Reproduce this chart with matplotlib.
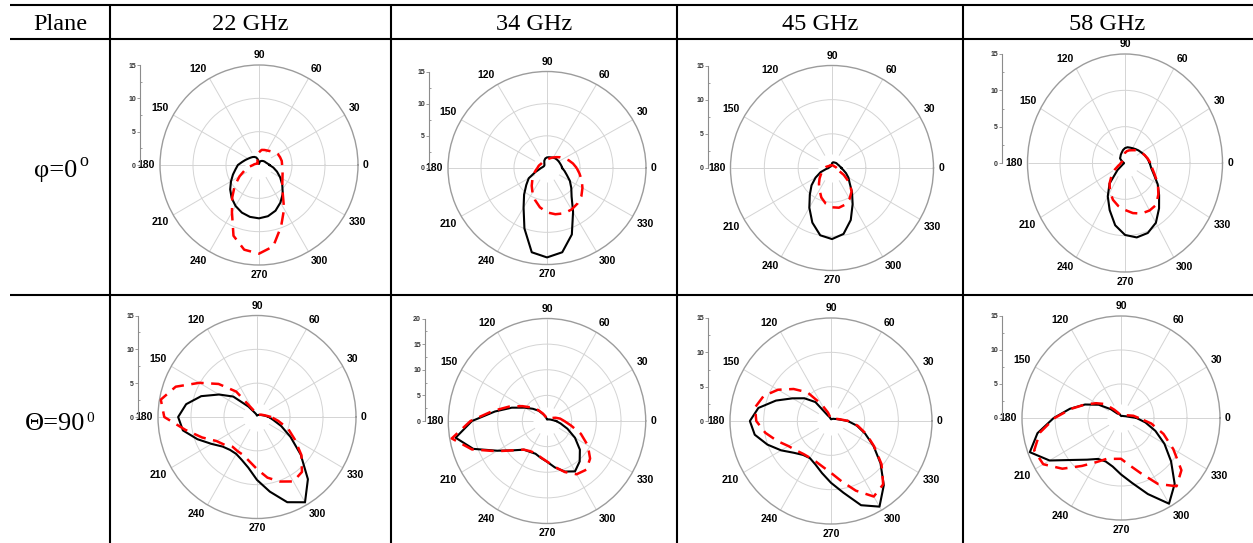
# Radiation patterns at 22/34/45/58 GHz, phi=0 and theta=90 planes, laid out as a table

import numpy as np
import matplotlib.pyplot as plt

plt.rcParams['font.family'] = ['Liberation Sans', 'DejaVu Sans']

W, H = 1253, 543

# Input data: pattern values every 10 degrees (black = solid, red = dashed)
angles = np.arange(0, 360, 10)
freqs = ['22 GHz', '34 GHz', '45 GHz', '58 GHz']

phi0_black_22 = [1.6, 1.3, 1.1, 1.0, 0.9, 0.8, 0.7, 0.6, 0.4, 0.15, 0.8, 1.2,
                 1.4, 1.55, 1.7, 1.9, 2.2, 2.6, 3.2, 3.6, 4.2, 4.9, 5.7, 6.45,
                 7.1, 7.6, 7.9, 8.0, 7.8, 7.3, 6.5, 5.6, 4.6, 3.7, 2.9, 2.2]
phi0_red_22 = [3.5, 3.5, 3.4, 3.3, 3.0, 2.7, 2.5, 2.4, 2.3, 1.9, 1.3, 0.7,
               0.4, 0.3, 0.3, 0.4, 0.5, 0.7, 0.9, 1.5, 2.3, 3.4, 4.8, 6.3,
               8.2, 11.3, 12.9, 13.3, 12.4, 9.8, 7.6, 5.6, 4.6, 4.1, 3.8, 3.6]

phi0_black_34 = [2.3, 2.2, 2.1, 2.05, 2.0, 1.95, 1.85, 1.75, 1.7, 1.65, 1.5, 1.2,
                 0.8, 0.6, 0.55, 0.55, 0.6, 0.7, 0.9, 1.2, 1.9, 3.2, 4.1, 5.4,
                 7.1, 10.0, 13.3, 13.9, 13.3, 11.0, 7.9, 5.8, 4.8, 4.0, 3.2, 2.7]
phi0_red_34 = [4.5, 4.0, 3.5, 3.0, 2.6, 2.2, 1.9, 1.65, 1.45, 1.3, 1.2, 1.15,
               1.1, 1.1, 1.1, 1.15, 1.25, 1.35, 1.45, 1.7, 2.0, 2.35, 2.9, 3.6,
               4.4, 5.3, 6.2, 6.9, 7.3, 7.5, 7.45, 7.2, 6.8, 6.2, 5.6, 5.0]

phi0_black_45 = [1.4, 1.2, 1.1, 1.0, 0.97, 0.95, 0.9, 0.87, 0.85, 0.7, 0.4, 0.3,
                 0.3, 0.3, 0.35, 0.35, 0.4, 0.45, 0.5, 0.9, 1.8, 2.8, 3.95, 5.1,
                 6.7, 8.5, 10.0, 10.4, 9.8, 8.1, 6.1, 4.6, 3.4, 2.8, 2.2, 1.7]
phi0_red_45 = [0.7, 0.6, 0.5, 0.45, 0.4, 0.4, 0.4, 0.4, 0.4, 0.4, 0.4, 0.4,
               0.45, 0.5, 0.5, 0.55, 0.7, 0.9, 1.1, 1.3, 1.55, 1.9, 2.4, 3.0,
               3.7, 4.6, 5.3, 5.75, 5.9, 5.7, 5.2, 4.5, 3.4, 2.0, 1.0, 0.8]

phi0_black_58 = [3.8, 3.5, 3.2, 2.9, 2.7, 2.5, 2.35, 2.25, 2.2, 2.05, 1.8, 1.5,
                 1.3, 1.1, 1.0, 0.6, 0.3, 0.2, 0.15, 0.15, 0.2, 0.4, 1.5, 3.7,
                 5.3, 6.9, 8.7, 9.9, 10.4, 10.25, 9.5, 8.15, 6.85, 5.8, 4.75, 4.1]
phi0_red_58 = [3.9, 3.55, 3.2, 2.9, 2.6, 2.3, 2.03, 1.85, 1.66, 1.4, 1.0, 0.74,
               0.6, 0.5, 0.45, 0.45, 0.5, 0.55, 0.65, 0.75, 1.1, 1.8, 2.7, 3.7,
               4.6, 5.4, 6.0, 6.46, 7.0, 7.4, 7.55, 7.5, 6.7, 5.85, 4.9, 4.25]

theta90_black_22 = [1.8, 1.17, 0.8, 0.6, 0.5, 0.4, 0.35, 0.3, 0.25, 0.2, 0.3, 0.5,
                    0.8, 2.0, 4.7, 6.65, 9.0, 10.9, 11.95, 11.4, 9.6, 7.95, 6.8, 6.35,
                    6.3, 6.75, 7.6, 9.3, 11.2, 13.4, 14.55, 12.0, 8.65, 5.85, 3.9, 2.5]
theta90_red_22 = [2.15, 1.3, 0.9, 0.7, 0.5, 0.4, 0.35, 0.3, 0.3, 0.3, 0.4, 0.6,
                  1.3, 4.9, 7.6, 10.1, 13.1, 14.8, 14.05, 11.0, 8.85, 7.1, 6.4, 5.75,
                  5.85, 6.0, 6.65, 7.7, 9.1, 10.15, 11.0, 10.6, 8.8, 6.6, 5.0, 3.25]

theta90_black_34 = [1.85, 1.1, 0.8, 0.6, 0.5, 0.4, 0.35, 0.3, 0.3, 0.3, 0.5, 0.9,
                    1.5, 2.6, 3.7, 5.2, 7.6, 10.7, 15.2, 18.8, 15.9, 11.6, 8.9, 7.3,
                    6.95, 6.8, 7.3, 7.95, 9.2, 10.5, 11.35, 10.3, 8.7, 6.55, 4.4, 2.8]
theta90_red_34 = [3.5, 2.7, 1.85, 1.2, 0.8, 0.6, 0.5, 0.4, 0.35, 0.35, 0.5, 1.0,
                  1.7, 2.8, 4.1, 5.8, 8.2, 11.2, 15.5, 19.6, 16.2, 11.8, 8.9, 7.3,
                  6.8, 6.7, 7.2, 7.9, 9.1, 10.6, 12.0, 12.4, 11.4, 9.55, 7.3, 4.9]

theta90_black_45 = [2.5, 1.25, 0.85, 0.6, 0.5, 0.4, 0.35, 0.3, 0.25, 0.25, 0.35, 0.6,
                    0.9, 3.6, 5.15, 6.6, 8.7, 10.95, 12.05, 11.5, 10.05, 8.55, 7.2, 6.45,
                    6.25, 6.75, 7.7, 9.0, 10.6, 13.05, 14.4, 12.2, 9.6, 7.3, 5.4, 3.9]
theta90_red_45 = [2.6, 1.4, 0.9, 0.65, 0.5, 0.4, 0.35, 0.3, 0.3, 0.3, 0.5, 1.3,
                  2.8, 5.45, 7.25, 9.1, 10.65, 11.45, 11.1, 9.9, 8.5, 7.3, 6.7, 6.3,
                  6.2, 6.35, 6.8, 7.55, 8.9, 10.8, 12.7, 12.05, 9.8, 7.4, 5.6, 4.05]

theta90_black_58 = [2.35, 1.1, 0.75, 0.55, 0.45, 0.4, 0.35, 0.3, 0.3, 0.3, 0.4, 0.55,
                    0.7, 0.85, 2.0, 3.9, 5.8, 7.85, 10.2, 12.85, 14.7, 12.5, 9.6, 8.0,
                    6.95, 6.8, 7.25, 8.3, 9.7, 11.9, 14.55, 12.65, 9.9, 7.6, 5.55, 3.75]
theta90_red_58 = [2.7, 1.9, 1.15, 0.8, 0.6, 0.5, 0.4, 0.35, 0.35, 0.35, 0.45, 0.6,
                  0.9, 1.6, 3.2, 4.35, 5.8, 7.7, 10.05, 12.5, 14.0, 13.6, 11.6, 9.2,
                  7.5, 6.4, 6.1, 6.0, 7.0, 8.6, 11.2, 13.1, 11.95, 9.15, 6.85, 4.65]

rmax_phi0 = [15, 15, 15, 15]
rmax_theta90 = [15, 20, 15, 15]

spoke_angles = np.arange(0, 360, 30)
grid_col = '#d4d4d4'


def polar_panel(cx, cy, rx, ry, bar_x, rmax, black, red):
    # panel placed in pixel units (center, x/y radius)
    ax = fig.add_axes([(cx - rx) / W, 1 - (cy + ry) / H, 2 * rx / W, 2 * ry / H],
                      projection='polar')
    ax.set_aspect('auto')
    th = np.radians(np.append(angles, 360))
    ax.vlines(np.radians(spoke_angles), 0.14 * rmax, rmax, color=grid_col, lw=0.7, zorder=1)
    ax.plot(th, np.append(black, black[0]), color='black', lw=1.5, zorder=3)
    ax.plot(th, np.append(red, red[0]), color='red', lw=1.8, ls=(0, (5, 3)), zorder=4)
    ax.set_ylim(0, rmax)
    ax.set_yticks(np.arange(5, rmax, 5))
    ax.set_yticklabels([])
    ax.set_xticks([])
    ax.yaxis.grid(True, color=grid_col, lw=0.7)
    ax.spines['polar'].set_edgecolor('#9c9c9c')
    ax.spines['polar'].set_linewidth(1.0)
    for a in spoke_angles:
        t = np.radians(a)
        c, s = np.cos(t), np.sin(t)
        ha = 'left' if c > 0.1 else ('right' if c < -0.1 else 'center')
        va = 'bottom' if s > 0.1 else ('top' if s < -0.1 else 'center')
        ax.annotate(str(a), xy=(t, rmax), xytext=(3.5 * c, 3.5 * s),
                    textcoords='offset points', ha=ha, va=va, fontsize=7.5,
                    fontweight='bold', annotation_clip=False)

    # radial scale bar on the left
    bax = fig.add_axes([bar_x / W, 1 - cy / H, 0.0008, ry / H])
    bax.set_ylim(0, rmax)
    bax.set_xticks([])
    bax.set_yticks(np.arange(0, rmax + 1, 5))
    bax.set_yticks(np.arange(2.5, rmax, 5), minor=True)
    for s in ['top', 'right', 'bottom']:
        bax.spines[s].set_visible(False)
    bax.spines['left'].set_color('#8c8c8c')
    bax.spines['left'].set_linewidth(0.8)
    bax.patch.set_visible(False)
    bax.tick_params(axis='y', which='major', length=2.5, width=0.6, color='#8c8c8c',
                    labelsize=5, pad=0.5, labelcolor='#333333')
    bax.tick_params(axis='y', which='minor', length=1.5, width=0.6, color='#8c8c8c',
                    direction='in')
    for lab in bax.get_yticklabels():
        lab.set_fontweight('bold')


fig = plt.figure(figsize=(W / 100, H / 100), dpi=100)

# table frame
tab = fig.add_axes([0, 0, 1, 1])
tab.set_xlim(0, W)
tab.set_ylim(H, 0)
tab.axis('off')
tab.hlines([5, 39, 295], 10, W, color='black', lw=1.5)
tab.vlines([110, 391, 677, 963], 5, H, color='black', lw=1.5)

serif = 'Liberation Serif'
col_x = [250, 534, 820, 1107]
tab.text(60, 29.5, 'Plane', ha='center', va='baseline', fontsize=17.5, family=serif)
for x, f in zip(col_x, freqs):
    tab.text(x, 29.5, f, ha='center', va='baseline', fontsize=17.5, family=serif)

tab.text(56, 177, 'φ=0', ha='center', va='baseline', fontsize=19, family=serif)
tab.text(79, 166.5, 'o', ha='left', va='baseline', fontsize=13, family=serif)
tab.text(55, 430, 'Θ=90', ha='center', va='baseline', fontsize=19, family=serif)
tab.text(86, 422.5, '0', ha='left', va='baseline', fontsize=11, family=serif)

# Plot the eight patterns
row1 = [(phi0_black_22, phi0_red_22), (phi0_black_34, phi0_red_34),
        (phi0_black_45, phi0_red_45), (phi0_black_58, phi0_red_58)]
row2 = [(theta90_black_22, theta90_red_22), (theta90_black_34, theta90_red_34),
        (theta90_black_45, theta90_red_45), (theta90_black_58, theta90_red_58)]

geo1 = [(259, 165, 99, 100, 140), (547, 168, 99, 96.5, 429),
        (832, 168, 101.5, 102.5, 708), (1125, 163, 97.5, 109, 1002)]
geo2 = [(257, 417, 99, 101.5, 138), (547, 421, 98.7, 102.5, 425),
        (831, 421, 101, 103, 708), (1121, 418, 99, 102, 1002)]

for (blk, rd), g, rm in zip(row1, geo1, rmax_phi0):
    polar_panel(*g, rm, blk, rd)
for (blk, rd), g, rm in zip(row2, geo2, rmax_theta90):
    polar_panel(*g, rm, blk, rd)

fig.savefig('out.png', dpi=100)
